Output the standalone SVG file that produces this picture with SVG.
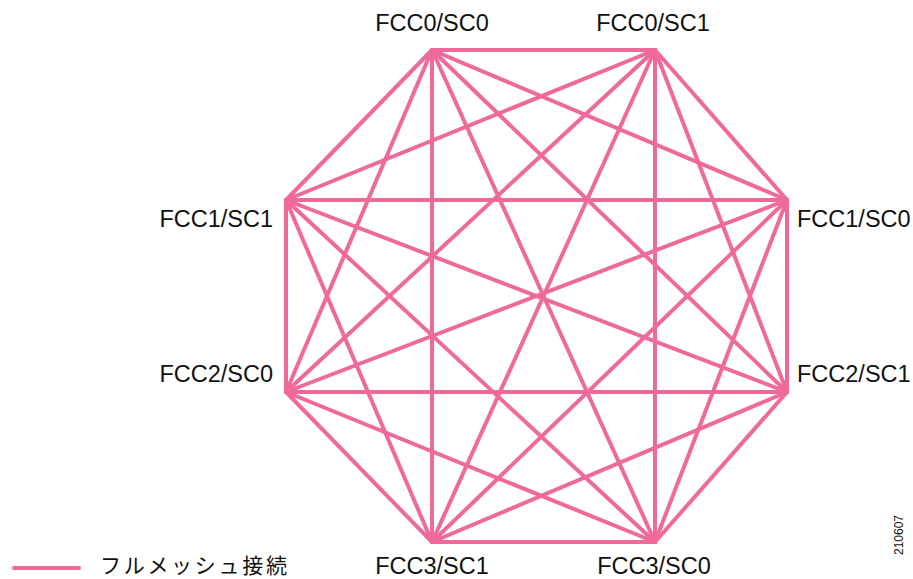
<svg xmlns="http://www.w3.org/2000/svg" width="913" height="579" viewBox="0 0 913 579">
<style>
.e{stroke:#EF6A9A;stroke-width:4;stroke-linecap:round;fill:none}
.l{font-family:"Liberation Sans",Arial,sans-serif;font-size:23.5px;fill:#111}
.j{font-family:"Noto Sans CJK JP","Noto Sans CJK SC",sans-serif;font-size:21px;fill:#111;letter-spacing:2.7px}
.n{font-family:"Liberation Sans",Arial,sans-serif;font-size:12px;fill:#111}
</style>
<rect width="913" height="579" fill="#fff"/>
<g id="connectors">
<line class="e" x1="432" y1="50" x2="655" y2="50"/>
<line class="e" x1="432" y1="50" x2="787" y2="200"/>
<line class="e" x1="432" y1="50" x2="787" y2="392"/>
<line class="e" x1="432" y1="50" x2="655" y2="542"/>
<line class="e" x1="432" y1="50" x2="432" y2="542"/>
<line class="e" x1="432" y1="50" x2="286" y2="392"/>
<line class="e" x1="432" y1="50" x2="286" y2="200"/>
<line class="e" x1="655" y1="50" x2="787" y2="200"/>
<line class="e" x1="655" y1="50" x2="787" y2="392"/>
<line class="e" x1="655" y1="50" x2="655" y2="542"/>
<line class="e" x1="655" y1="50" x2="432" y2="542"/>
<line class="e" x1="655" y1="50" x2="286" y2="392"/>
<line class="e" x1="655" y1="50" x2="286" y2="200"/>
<line class="e" x1="787" y1="200" x2="787" y2="392"/>
<line class="e" x1="787" y1="200" x2="655" y2="542"/>
<line class="e" x1="787" y1="200" x2="432" y2="542"/>
<line class="e" x1="787" y1="200" x2="286" y2="392"/>
<line class="e" x1="787" y1="200" x2="286" y2="200"/>
<line class="e" x1="787" y1="392" x2="655" y2="542"/>
<line class="e" x1="787" y1="392" x2="432" y2="542"/>
<line class="e" x1="787" y1="392" x2="286" y2="392"/>
<line class="e" x1="787" y1="392" x2="286" y2="200"/>
<line class="e" x1="655" y1="542" x2="432" y2="542"/>
<line class="e" x1="655" y1="542" x2="286" y2="392"/>
<line class="e" x1="655" y1="542" x2="286" y2="200"/>
<line class="e" x1="432" y1="542" x2="286" y2="392"/>
<line class="e" x1="432" y1="542" x2="286" y2="200"/>
<line class="e" x1="286" y1="392" x2="286" y2="200"/>
</g>
<g id="FCC0-SC0"><text class="l" x="432" y="31" text-anchor="middle">FCC0/SC0</text></g>
<g id="FCC0-SC1"><text class="l" x="653" y="31" text-anchor="middle">FCC0/SC1</text></g>
<g id="FCC1-SC0"><text class="l" x="797" y="227">FCC1/SC0</text></g>
<g id="FCC2-SC1"><text class="l" x="797" y="382">FCC2/SC1</text></g>
<g id="FCC3-SC0"><text class="l" x="654" y="573.5" text-anchor="middle">FCC3/SC0</text></g>
<g id="FCC3-SC1"><text class="l" x="432" y="573.5" text-anchor="middle">FCC3/SC1</text></g>
<g id="FCC2-SC0"><text class="l" x="273" y="382" text-anchor="end">FCC2/SC0</text></g>
<g id="FCC1-SC1"><text class="l" x="273" y="227" text-anchor="end">FCC1/SC1</text></g>
<g id="legend">
<line class="e" x1="14" y1="568" x2="79" y2="568" stroke-linecap="butt"/>
<text class="j" x="100" y="572.5">フルメッシュ接続</text>
</g>
<text class="n" transform="translate(903,555) rotate(-90)">210607</text>
</svg>
